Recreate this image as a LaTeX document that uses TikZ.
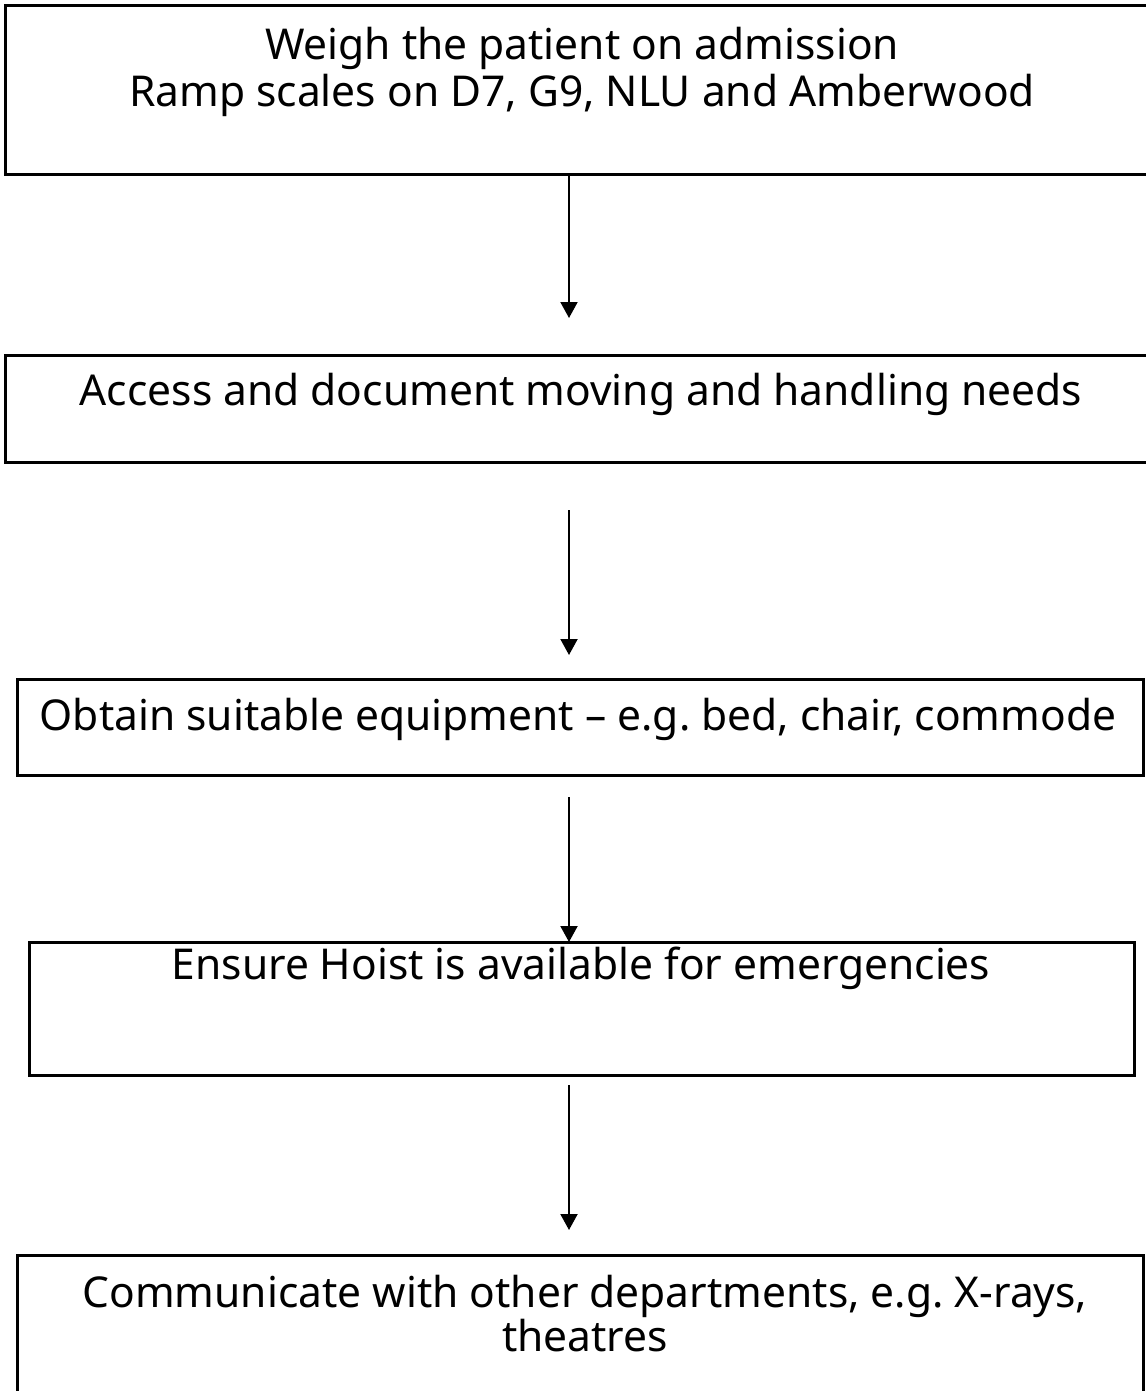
\documentclass[tikz,border=0pt]{standalone}
\usepackage{fontspec}
\setmainfont{Noto Sans}
\usetikzlibrary{arrows.meta}
\frenchspacing
\begin{document}
\begin{tikzpicture}[x=1pt,y=-1pt,
  boxshape/.style={draw=black,line width=3pt},
  txt/.style={font=\fontsize{42.5}{47}\selectfont,align=center,inner sep=0pt,anchor=center},
  flow/.style={draw=black,line width=2pt,-{Triangle[width=17pt,length=16pt]}}]
\useasboundingbox (0,0) rectangle (1145,1391);
\fill[white] (0,0) rectangle (1145,1391);
\draw[boxshape] (5,6) rectangle (1160,175);
\draw[boxshape] (5,355) rectangle (1160,462);
\draw[boxshape] (17,679) rectangle (1143,775);
\draw[boxshape] (29,942) rectangle (1134,1075);
\draw[boxshape] (17,1255) rectangle (1143,1420);
\node[txt] (t1) at (582,72) {Weigh the patient on admission\\Ramp scales on D7, G9, NLU and Amberwood};
\node[txt] (t2) at (581,394) {Access and document moving and handling needs};
\node[txt] (t3) at (578,719) {Obtain suitable equipment -- e.g. bed, chair, commode};
\node[txt] (t4) at (581,968) {Ensure Hoist is available for emergencies};
\node[txt, font=\fontsize{42.5}{44}\selectfont] (t5) at (585,1314) {Communicate with other departments, e.g. X-rays,\\theatres};
\coordinate (a1s) at (569,175); \coordinate (a1e) at (569,318);
\coordinate (a2s) at (569,510); \coordinate (a2e) at (569,655);
\coordinate (a3s) at (569,797); \coordinate (a3e) at (569,942);
\coordinate (a4s) at (569,1085); \coordinate (a4e) at (569,1230);
\draw[flow] (a1s) -- (a1e);
\draw[flow] (a2s) -- (a2e);
\draw[flow] (a3s) -- (a3e);
\draw[flow] (a4s) -- (a4e);
\end{tikzpicture}
\end{document}
